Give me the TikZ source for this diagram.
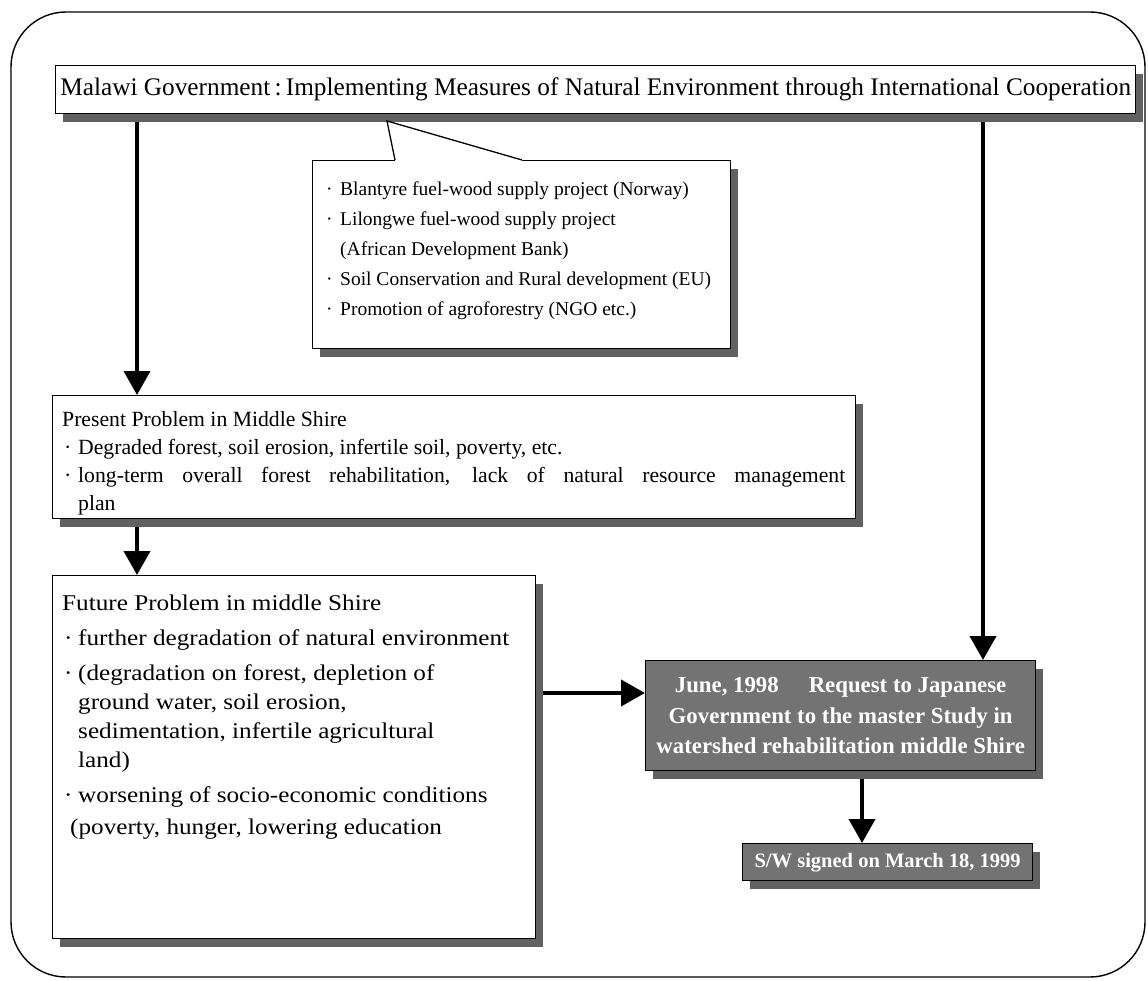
\documentclass[tikz,border=0pt]{standalone}
\usepackage{fontspec}
\setmainfont{Liberation Serif}
\newfontfamily\widefont[FakeStretch=1.12]{Liberation Serif}
\usetikzlibrary{arrows.meta,shadows}

% bullet with a fixed width so that item texts line up
\newcommand\itembul{\makebox[16pt][l]{\hspace{2pt}·}}
\newcommand\itemgap{\hspace*{16pt}}

\tikzset{
  box/.style={draw=black, line width=1.3pt, fill=white, inner sep=0pt,
    anchor=north west,
    drop shadow={shadow xshift=7pt, shadow yshift=-8pt, fill=black!62, opacity=1}},
  darkbox/.style={box, fill=black!55},
  txt/.style={inner sep=0pt, anchor=north west, align=left},
  arr/.style={line width=4pt, -{Triangle[width=26pt,length=24pt]}},
  frame/.style={draw=black, line width=1.4pt, rounded corners=55pt},
}

\begin{document}
\begin{tikzpicture}[x=1pt,y=-1pt]
\useasboundingbox[fill=white] (0,0) rectangle (1148,981);

% outer frame
\draw[frame] (11,12) rectangle (1145,977);

% government measures (top bar)
\node[box, minimum width=1080pt, minimum height=48pt,
      font=\fontsize{25.3}{28}\selectfont] (gov) at (55,65)
  {Malawi Government\,:\,Implementing Measures of Natural Environment through International Cooperation};

% donor projects (callout)
\node[box, minimum width=418pt, minimum height=188pt] (proj) at (312,160) {};
\node[txt, font=\fontsize{19.5}{30}\selectfont] (projtxt) at ([xshift=12pt,yshift=-22pt]proj.north west)
  {\itembul Blantyre fuel-wood supply project (Norway)\\
   \itembul Lilongwe fuel-wood supply project\\
   \itemgap (African Development Bank)\\
   \itembul Soil Conservation and Rural development (EU)\\
   \itembul Promotion of agroforestry (NGO etc.)};
\coordinate (govshadow) at ([yshift=-8pt]gov.south);
\coordinate (ptip) at (387,121);
\coordinate (pb1) at ([xshift=83pt]proj.north west);
\coordinate (pb2) at ([xshift=210pt]proj.north west);
\fill[white] (pb1) -- (ptip) -- (pb2) -- ([yshift=-1.2pt]pb2) -- ([yshift=-1.2pt]pb1) -- cycle;
\draw[line width=1.3pt, line join=miter] (pb1) -- (ptip) -- (pb2);

% present problem
\node[box, minimum width=803pt, minimum height=123pt] (present) at (52,395) {};
\node[txt, font=\fontsize{21.7}{28}\selectfont] (presenttxt) at ([xshift=10pt,yshift=-16pt]present.north west)
  {Present Problem in Middle Shire\\
   \itembul Degraded forest, soil erosion, infertile soil, poverty, etc.\\
   \itembul\makebox[767pt][s]{long-term overall forest rehabilitation, lack of natural resource management}\\
   \itemgap plan};

% future problem
\node[box, minimum width=483pt, minimum height=363pt] (future) at (52,575) {};
\node[txt, font=\widefont\fontsize{22.5}{29}\selectfont] (futuretxt) at ([xshift=10pt,yshift=-20pt]future.north west)
  {Future Problem in middle Shire\\[6pt]
   \itembul further degradation of natural environment\\[6pt]
   \itembul (degradation on forest, depletion of\\
   \itemgap ground water, soil erosion,\\
   \itemgap sedimentation, infertile agricultural\\
   \itemgap land)\\[6pt]
   \itembul worsening of socio-economic conditions\\[3pt]
   \hspace*{8pt}(poverty, hunger, lowering education};

% request to the Japanese government
\node[darkbox, minimum width=390pt, minimum height=110pt, text=white, align=center,
      font=\bfseries\fontsize{22.8}{30.5}\selectfont] (june) at (645,660)
  {June, 1998\hspace{30pt}Request to Japanese\\
   Government to the master Study in\\
   watershed rehabilitation middle Shire};

% scope of work
\node[darkbox, minimum width=290pt, minimum height=37pt, text=white,
      font=\bfseries\fontsize{20.5}{24}\selectfont] (sw) at (742,843)
  {S/W signed on March 18, 1999};

% connectors
\coordinate (lx) at (137,0);
\coordinate (rx) at (983,0);
\coordinate (sx) at (862,0);
\coordinate (hy) at (0,693);
\coordinate (presshadow) at ([yshift=-8pt]present.south);
\coordinate (futshadow) at ([xshift=7pt]future.east);
\coordinate (juneshadow) at ([yshift=-8pt]june.south);

\draw[arr] (govshadow -| lx) -- (present.north -| lx);
\draw[arr] (presshadow -| lx) -- (future.north -| lx);
\draw[arr] (govshadow -| rx) -- (june.north -| rx);
\draw[arr] (futshadow |- hy) -- (june.west |- hy);
\draw[arr] (juneshadow -| sx) -- (sw.north -| sx);
\end{tikzpicture}
\end{document}
